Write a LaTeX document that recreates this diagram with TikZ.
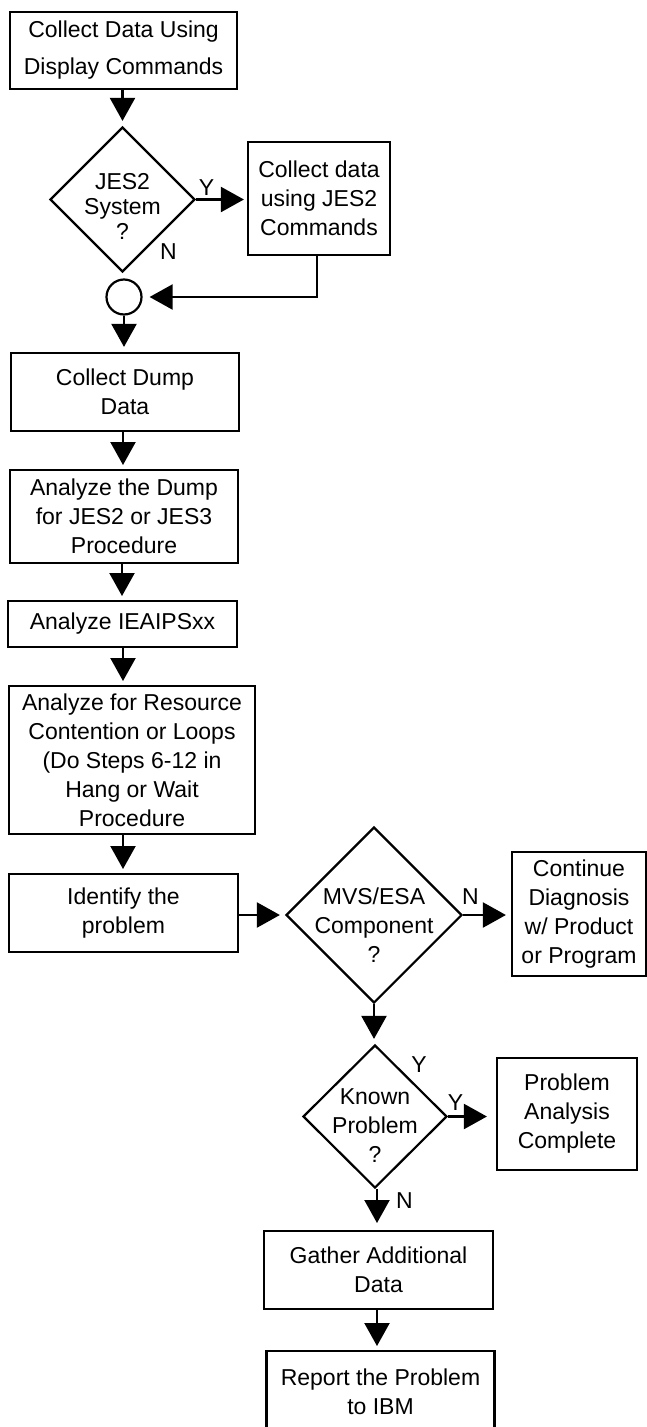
\documentclass[tikz,border=0pt]{standalone}
\usepackage{fontspec}
\setmainfont{Liberation Sans}
\usetikzlibrary{shapes.geometric,arrows.meta}

\begin{document}
\begin{tikzpicture}[x=1pt, y=-1pt,
    box/.style={draw, line width=2.2pt, align=center, inner sep=0pt, font=\fontsize{23}{29}\selectfont},
    decision/.style={draw, diamond, line width=2.2pt, inner sep=0pt},
    txt/.style={align=center, inner sep=0pt, font=\fontsize{23}{29}\selectfont},
    lbl/.style={inner sep=0pt, font=\fontsize{23}{29}\selectfont},
    arr/.style={-{Triangle[length=23pt,width=25pt]}, line width=2.2pt, shorten >=5pt}]
            \useasboundingbox (0,0) rectangle (647,1427);

            \node[box, minimum width=227pt, minimum height=77pt, font=\fontsize{23}{37}\selectfont] (collect) at (123.5,50.5) {Collect Data Using\\Display Commands};
            \node[decision, minimum width=145pt, minimum height=145pt,
                label={[txt, yshift=-7pt, font=\fontsize{23}{25}\selectfont]center:JES2\\System\\?}] (jes2) at (122.5,199.5) {};
            \node[box, minimum width=142pt, minimum height=113pt] (cmds) at (319,198.5) {Collect data\\using JES2\\Commands};
            \node[draw, circle, line width=2.2pt, minimum size=35pt, inner sep=0pt] (join) at (124,297) {};
            \node[lbl] (jes2y) at (206.5,188) {Y};
            \node[lbl] (jes2n) at (168.5,251.5) {N};

            \draw[arr, shorten >=3pt] (jes2.east) -- (jes2.east -| cmds.west);
            \draw[arr] (collect.south -| jes2.north) -- (jes2.north);
            \draw[arr, shorten >=7pt] (cmds.south -| 317,0) |- (join.east);

            \node[box, minimum width=228pt, minimum height=78pt] (dump) at (125,392) {Collect Dump\\Data};
            \node[box, minimum width=228pt, minimum height=93pt] (analyze) at (124,516.5) {Analyze the Dump\\for JES2 or JES3\\Procedure};
            \node[box, minimum width=229pt, minimum height=46pt] (ieaips) at (122.5,624) {Analyze IEAIPSxx};
            \node[box, minimum width=246pt, minimum height=148pt] (resource) at (132,760) {Analyze for Resource\\Contention or Loops\\(Do Steps 6-12 in\\Hang or Wait\\Procedure};
            \node[box, minimum width=229pt, minimum height=78pt] (identify) at (123.5,913) {Identify the\\problem};

            \draw[arr] (join.south) -- (join.south |- dump.north);
            \draw[arr] (dump.south -| 123,0) -- (123,470);
            \draw[arr] (analyze.south -| 122,0) -- (122,601);
            \draw[arr] (ieaips.south -| 123,0) -- (123,686);
            \draw[arr] (resource.south -| 123,0) -- (123,874);

            \node[decision, minimum width=176pt, minimum height=176pt,
                label={[txt, yshift=-10pt]center:MVS/ESA\\Component\\?}] (mvs) at (374,915) {};
            \node[box, minimum width=134pt, minimum height=124pt] (cont) at (579,914) {Continue\\Diagnosis\\w/ Product\\or Program};
            \node[lbl] (mvsn) at (470.5,896.5) {N};

            \draw[arr] (identify.east |- mvs.west) -- (mvs.west);
            \draw[arr] (mvs.east) -- (mvs.east -| cont.west);

            \node[decision, minimum width=144pt, minimum height=143pt,
                label={[txt, yshift=-9pt]center:Known\\Problem\\?}] (known) at (375,1116.5) {};
            \node[box, minimum width=140pt, minimum height=112pt] (done) at (567,1114) {Problem\\Analysis\\Complete};
            \node[lbl] (knowny) at (419,1065) {Y};
            \node[lbl] (knowny2) at (455.5,1102.5) {Y};
            \node[lbl] (knownn) at (404.5,1201) {N};

            \draw[arr] (mvs.south) -- (mvs.south |- known.north);
            \draw[arr, shorten >=9pt] (known.east) -- (known.east -| done.west);

            \node[box, minimum width=229pt, minimum height=78pt] (gather) at (378.5,1270) {Gather Additional\\Data};
            \node[box, minimum width=228pt, minimum height=81pt] (report) at (380.5,1391.5) {Report the Problem\\to IBM};

            \draw[arr, shorten >=8pt] (known.south -| 377,0) -- (377,1231);
            \draw[arr] (gather.south -| 377,0) -- (377,1351);
        \end{tikzpicture}
\end{document}
